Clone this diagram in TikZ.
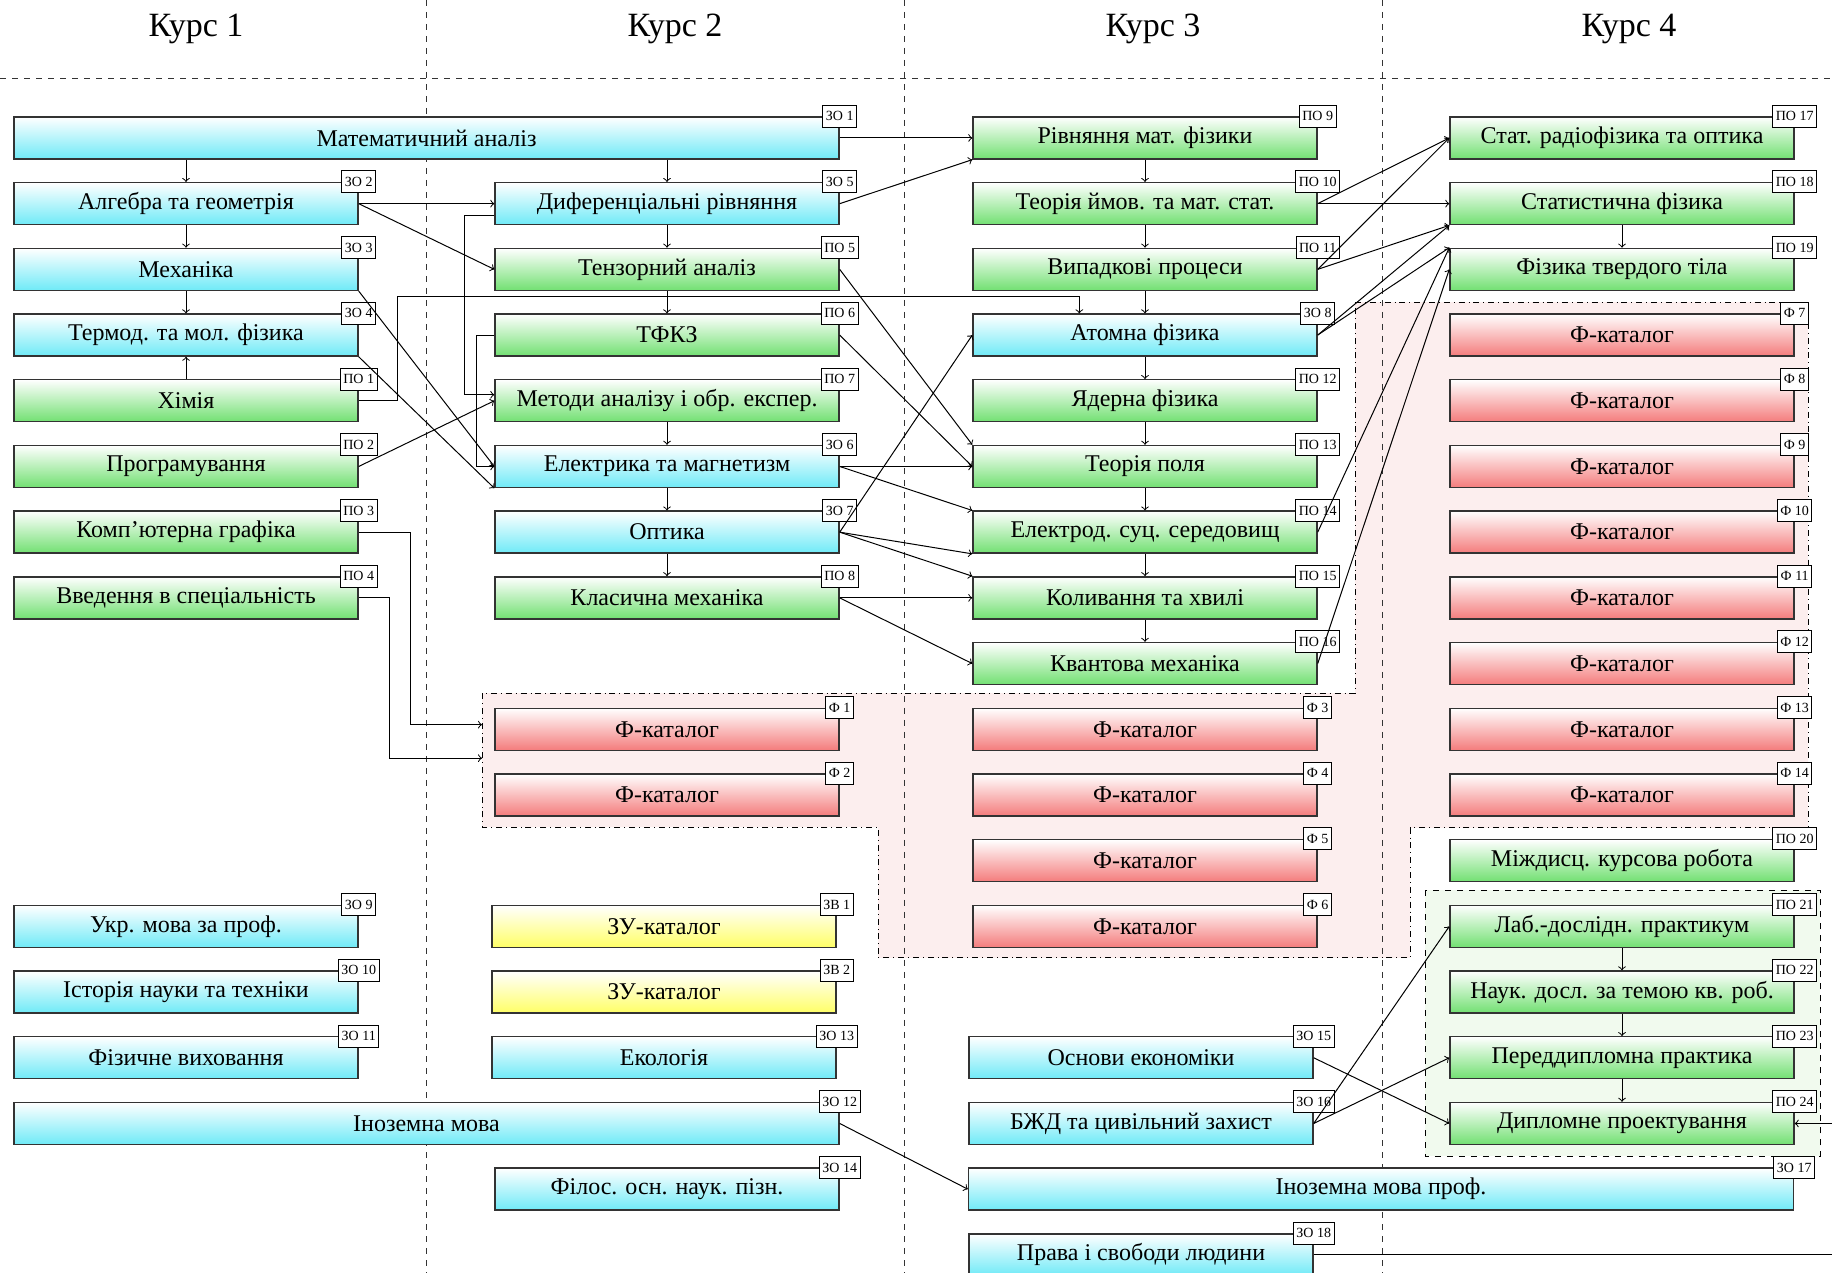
\documentclass[tikz,border=0pt]{standalone}
\usepackage{fontspec}
\setmainfont{Liberation Serif}
\usetikzlibrary{positioning}
\definecolor{zocyan}{HTML}{6FEAF7}
\definecolor{pogreen}{HTML}{72E072}
\definecolor{fred}{HTML}{F47C7C}
\definecolor{zvyellow}{HTML}{FFFF66}
\definecolor{fpink}{HTML}{FCEEEE}
\definecolor{pgbg}{HTML}{F1FAEE}

% subject box with its code tag at the north east corner
\newcommand{\subjnode}[6]{%
  \node[#4] (#1) at (#2,#3) {#5};
  \node[tagbox] (#1-tag) at (#1.north east) {#6};}

\begin{document}
\begin{tikzpicture}[
    x=0.5pt, y=-32.85pt,
    subj/.style={
        draw=black!80, line width=0.7pt,
        minimum width=172pt, minimum height=21pt, inner sep=0pt,
        font=\fontsize{12}{14}\selectfont,
    },
    zo/.style={subj, top color=white, bottom color=zocyan},
    po/.style={subj, top color=white, bottom color=pogreen},
    fk/.style={subj, top color=white, bottom color=fred},
    zv/.style={subj, top color=white, bottom color=zvyellow},
    widebox/.style={minimum width=412.5pt},
    tagbox/.style={draw, line width=0.5pt, fill=white, inner sep=1.5pt,
        minimum height=11pt, font=\fontsize{7}{8}\selectfont},
    head/.style={font=\fontsize{17}{19}\selectfont},
    arr/.style={->, line width=0.5pt},
    divider/.style={dashed, line width=0.5pt, black!80},
]
\useasboundingbox (0,-2.1) rectangle (1832,17.276);
\clip (0,-2.1) rectangle (1832,17.276);

% ── Background regions ──
\fill[fpink] (1355,2.5) -- (1808,2.5) -- (1808,10.5) -- (1410,10.5) -- (1410,12.48)
    -- (878,12.48) -- (878,10.49) -- (482,10.49) -- (482,8.45) -- (1355,8.45) -- cycle;
\draw[dash dot, line width=0.5pt] (1355,2.5) -- (1808,2.5) -- (1808,10.5) -- (1410,10.5)
    -- (1410,12.48) -- (878,12.48) -- (878,10.49) -- (482,10.49) -- (482,8.45)
    -- (1355,8.45) -- cycle;
\draw[dashed, line width=0.5pt, fill=pgbg] (1425,11.45) rectangle (1820,15.5);

\coordinate (fin1) at (482,8.93);
\coordinate (fin2) at (482,9.44);

% ── Course columns ──
\foreach \x in {426,904,1382}
    \draw[divider] (\x,-2.1) -- (\x,17.28);
\draw[divider] (0,-0.9) -- (1832,-0.9);
\foreach \c/\x in {1/196,2/675,3/1153,4/1629}
    \node[head] (head\c) at (\x,-1.66) {Курс \c};

% ── Course 1 ──
\subjnode{mat}{426.5}{0}{zo, widebox}{Математичний аналіз}{ЗО 1}
\subjnode{alg}{186}{1}{zo}{Алгебра та геометрія}{ЗО 2}
\subjnode{mech}{186}{2}{zo}{Механіка}{ЗО 3}
\subjnode{term}{186}{3}{zo}{Термод. та мол. фізика}{ЗО 4}
\subjnode{khim}{186}{4}{po}{Хімія}{ПО 1}
\subjnode{prog}{186}{5}{po}{Програмування}{ПО 2}
\subjnode{graf}{186}{6}{po}{Комп'ютерна графіка}{ПО 3}
\subjnode{vved}{186}{7}{po}{Введення в спеціальність}{ПО 4}
\subjnode{ukr}{186}{12}{zo}{Укр. мова за проф.}{ЗО 9}
\subjnode{hist}{186}{13}{zo}{Історія науки та техніки}{ЗО 10}
\subjnode{fizv}{186}{14}{zo}{Фізичне виховання}{ЗО 11}
\subjnode{inmova}{426.5}{15}{zo, widebox}{Іноземна мова}{ЗО 12}

% ── Course 2 ──
\subjnode{dif}{667}{1}{zo}{Диференціальні рівняння}{ЗО 5}
\subjnode{tenz}{667}{2}{po}{Тензорний аналіз}{ПО 5}
\subjnode{tfkz}{667}{3}{po}{ТФКЗ}{ПО 6}
\subjnode{metod}{667}{4}{po}{Методи аналізу і обр. експер.}{ПО 7}
\subjnode{elmag}{667}{5}{zo}{Електрика та магнетизм}{ЗО 6}
\subjnode{opt}{667}{6}{zo}{Оптика}{ЗО 7}
\subjnode{klas}{667}{7}{po}{Класична механіка}{ПО 8}
\subjnode{f1}{667}{9}{fk}{Ф-каталог}{Ф 1}
\subjnode{f2}{667}{10}{fk}{Ф-каталог}{Ф 2}
\subjnode{zu1}{664}{12}{zv}{ЗУ-каталог}{ЗВ 1}
\subjnode{zu2}{664}{13}{zv}{ЗУ-каталог}{ЗВ 2}
\subjnode{ekol}{664}{14}{zo}{Екологія}{ЗО 13}
\subjnode{filos}{667}{16}{zo}{Філос. осн. наук. пізн.}{ЗО 14}

% ── Course 3 ──
\subjnode{rmf}{1145}{0}{po}{Рівняння мат. фізики}{ПО 9}
\subjnode{tim}{1145}{1}{po}{Теорія ймов. та мат. стат.}{ПО 10}
\subjnode{vyp}{1145}{2}{po}{Випадкові процеси}{ПО 11}
\subjnode{atom}{1145}{3}{zo}{Атомна фізика}{ЗО 8}
\subjnode{yad}{1145}{4}{po}{Ядерна фізика}{ПО 12}
\subjnode{tpol}{1145}{5}{po}{Теорія поля}{ПО 13}
\subjnode{eld}{1145}{6}{po}{Електрод. суц. середовищ}{ПО 14}
\subjnode{kol}{1145}{7}{po}{Коливання та хвилі}{ПО 15}
\subjnode{kvant}{1145}{8}{po}{Квантова механіка}{ПО 16}
\subjnode{f3}{1145}{9}{fk}{Ф-каталог}{Ф 3}
\subjnode{f4}{1145}{10}{fk}{Ф-каталог}{Ф 4}
\subjnode{f5}{1145}{11}{fk}{Ф-каталог}{Ф 5}
\subjnode{f6}{1145}{12}{fk}{Ф-каталог}{Ф 6}
\subjnode{ekon}{1141}{14}{zo}{Основи економіки}{ЗО 15}
\subjnode{bzhd}{1141}{15}{zo}{БЖД та цивільний захист}{ЗО 16}
\subjnode{inprof}{1381}{16}{zo, widebox}{Іноземна мова проф.}{ЗО 17}
\subjnode{prava}{1141}{17}{zo}{Права і свободи людини}{ЗО 18}

% ── Course 4 ──
\subjnode{srad}{1622}{0}{po}{Стат. радіофізика та оптика}{ПО 17}
\subjnode{stat}{1622}{1}{po}{Статистична фізика}{ПО 18}
\subjnode{ftt}{1622}{2}{po}{Фізика твердого тіла}{ПО 19}
\foreach \i [evaluate=\i as \k using int(\i+4)] in {3,...,10}{
    \subjnode{f\k}{1622}{\i}{fk}{Ф-каталог}{Ф \k}
}
\subjnode{mizh}{1622}{11}{po}{Міждисц. курсова робота}{ПО 20}
\subjnode{lab}{1622}{12}{po}{Лаб.-дослідн. практикум}{ПО 21}
\subjnode{nauk}{1622}{13}{po}{Наук. досл. за темою кв. роб.}{ПО 22}
\subjnode{pered}{1622}{14}{po}{Переддипломна практика}{ПО 23}
\subjnode{dypl}{1622}{15}{po}{Дипломне проектування}{ПО 24}

% ── Arrows: within a column ──
\draw[arr] (mat.south -| alg) -- (alg);
\draw[arr] (mat.south -| dif) -- (dif);
\draw[arr] (khim) -- (term);
\foreach \a/\b in {alg/mech, mech/term, dif/tenz, tenz/tfkz, metod/elmag,
        elmag/opt, opt/klas, rmf/tim, tim/vyp, vyp/atom, atom/yad, yad/tpol,
        tpol/eld, eld/kol, kol/kvant, stat/ftt, lab/nauk, nauk/pered, pered/dypl}
    \draw[arr] (\a) -- (\b);

% ── Arrows: course 1 -> course 2 ──
\draw[arr] (alg.east) -- (dif.west);
\draw[arr] (alg.east) -- (tenz.west);
\draw[arr] (mech.south east) -- (elmag.west);
\draw[arr] (term.south east) -- (elmag.south west);
\draw[arr] (prog.east) -- (metod.west);
\draw[arr] ([yshift=-6pt]dif.west) -- ++(-30,0) |- ([yshift=3pt]metod.west);
\draw[arr] (tfkz.west) -- ++(-18,0) |- (elmag.west);
\draw[arr] (khim.east) -- ++(39,0) -- ++(0,-1.58) -| ([xshift=53.5pt]atom.north west);
\draw[arr] (graf.east) -- ++(52,0) |- (fin1);
\draw[arr] (vved.east) -- ++(31,0) |- (fin2);

% ── Arrows: course 2 -> course 3 ──
\draw[arr] (mat.east) -- (rmf.west);
\draw[arr] (dif.east) -- (rmf.south west);
\draw[arr] (tenz.east) -- (tpol.north west);
\draw[arr] (tfkz.east) -- (tpol.west);
\draw[arr] (elmag.east) -- (tpol.west);
\draw[arr] (elmag.east) -- (eld.north west);
\draw[arr] (opt.east) -- (atom.west);
\draw[arr] (opt.east) -- (eld.south west);
\draw[arr] (opt.east) -- (kol.north west);
\draw[arr] (klas.east) -- (kol.west);
\draw[arr] (klas.east) -- (kvant.west);
\draw[arr] (inmova.east) -- (inprof.west);

% ── Arrows: course 3 -> course 4 ──
\draw[arr] (tim.east) -- (srad.west);
\draw[arr] (tim.east) -- (stat.west);
\draw[arr] (vyp.east) -- (srad.west);
\draw[arr] (vyp.east) -- (stat.south west);
\draw[arr] (atom.east) -- (stat.south west);
\draw[arr] (atom.east) -- (ftt.north west);
\draw[arr] (eld.east) -- (ftt.north west);
\draw[arr] (kvant.east) -- (ftt.west);
\draw[arr] (ekon.east) -- (dypl.west);
\draw[arr] (bzhd.east) -- (lab.west);
\draw[arr] (bzhd.east) -- (pered.west);
\draw[arr] (prava.east) -- ++(540,0) |- (dypl.east);

\end{tikzpicture}
\end{document}
